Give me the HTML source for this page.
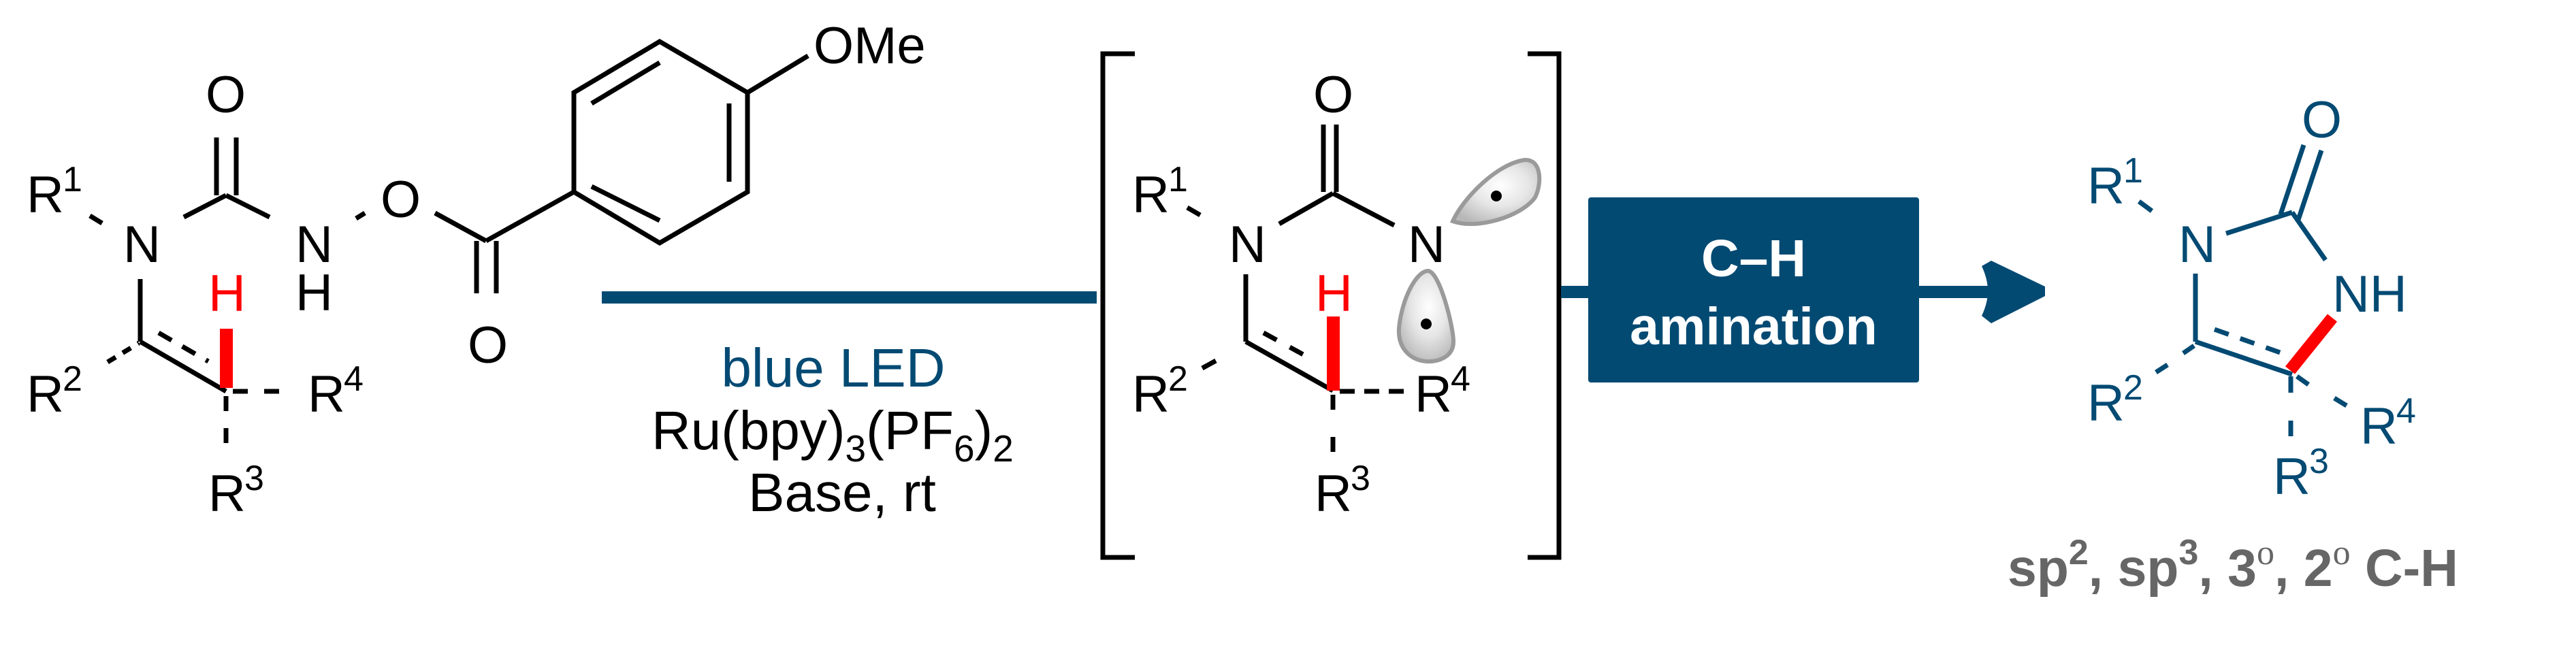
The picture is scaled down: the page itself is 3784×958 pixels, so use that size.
<!DOCTYPE html>
<html><head><meta charset="utf-8"><style>
html,body{margin:0;padding:0;background:#fff;}
svg{display:block;}
text{font-family:"Liberation Sans",Arial,sans-serif;}
</style></head><body>
<svg width="3784" height="958" viewBox="0 0 3784 958" xmlns="http://www.w3.org/2000/svg">
<defs>
<radialGradient id="lg" cx="0.55" cy="0.4" r="0.65">
<stop offset="0" stop-color="#ffffff"/><stop offset="0.5" stop-color="#e6e6e6"/><stop offset="1" stop-color="#b8b8b8"/>
</radialGradient>
</defs>
<g stroke="#000" stroke-width="7" fill="none">
<!-- reactant -->
<line x1="270" y1="319" x2="332" y2="287"/>
<line x1="332" y1="287" x2="396" y2="319"/>
<line x1="318" y1="202" x2="318" y2="287"/>
<line x1="347" y1="202" x2="347" y2="287"/>
<line x1="523" y1="321" x2="536" y2="313"/>
<line x1="639" y1="313" x2="714" y2="354"/>
<line x1="700" y1="354" x2="700" y2="431"/>
<line x1="729" y1="354" x2="729" y2="431"/>
<line x1="714" y1="354" x2="843" y2="282"/>
<polygon points="843,282 843,136 969,61 1098,136 1098,282 969,357"/>
<line x1="869" y1="274" x2="969" y2="324"/>
<line x1="869" y1="152" x2="969" y2="92"/>
<line x1="1071" y1="152" x2="1071" y2="267"/>
<line x1="1098" y1="136" x2="1187" y2="82"/>
<line x1="132" y1="317" x2="150" y2="328"/>
<line x1="206" y1="410" x2="206" y2="502"/>
<line x1="158" y1="532" x2="204" y2="504" stroke-dasharray="14,12"/>
<line x1="206" y1="502" x2="332" y2="575"/>
<line x1="233" y1="489" x2="306" y2="531" stroke-dasharray="22,18"/>
<line x1="342" y1="575" x2="423" y2="575" stroke-dasharray="22,24"/>
<line x1="332" y1="582" x2="332" y2="651" stroke-dasharray="22,25"/>
<!-- intermediate -->
<polyline points="1667,79 1620,79 1620,819 1667,819"/>
<polyline points="2244,79 2290,79 2290,819 2244,819"/>
<line x1="1944" y1="183" x2="1944" y2="282"/>
<line x1="1963" y1="183" x2="1963" y2="282"/>
<line x1="1879" y1="329" x2="1958" y2="284"/>
<line x1="1958" y1="284" x2="2048" y2="331"/>
<line x1="1744" y1="305" x2="1763" y2="316"/>
<line x1="1830" y1="403" x2="1830" y2="502"/>
<line x1="1766" y1="541" x2="1786" y2="530"/>
<line x1="1830" y1="502" x2="1958" y2="574"/>
<line x1="1856" y1="489" x2="1931" y2="530" stroke-dasharray="22,22"/>
<line x1="1968" y1="575" x2="2063" y2="575" stroke-dasharray="22,14"/>
<line x1="1958" y1="580" x2="1958" y2="666" stroke-dasharray="22,40"/>
</g>
<rect x="323" y="483" width="19" height="87" fill="#f00"/>
<rect x="1949" y="465" width="19" height="109" fill="#f00"/>
<g font-size="76" fill="#000">
<text x="39" y="312">R</text><text x="92" y="281" font-size="52">1</text>
<text x="181" y="385">N</text>
<text x="302" y="165">O</text>
<text x="434" y="385">N</text>
<text x="434" y="456">H</text>
<text x="559" y="319">O</text>
<text x="687" y="533">O</text>
<text x="1195" y="93">OMe</text>
<text x="39" y="605">R</text><text x="92" y="574" font-size="52">2</text>
<text x="452" y="605">R</text><text x="505" y="574" font-size="52">4</text>
<text x="306" y="751">R</text><text x="359" y="720" font-size="52">3</text>
<text x="306" y="457" fill="#f00">H</text>
<text x="1663" y="312">R</text><text x="1716" y="281" font-size="52">1</text>
<text x="1805" y="385">N</text>
<text x="2068" y="385">N</text>
<text x="1929" y="165">O</text>
<text x="1663" y="605">R</text><text x="1716" y="574" font-size="52">2</text>
<text x="2078" y="605">R</text><text x="2131" y="574" font-size="52">4</text>
<text x="1931" y="751">R</text><text x="1984" y="720" font-size="52">3</text>
<text x="1932" y="457" fill="#f00">H</text>
</g>
<!-- lobes -->
<path d="M2134,325 C2150,290 2200,240 2240,235 C2265,234 2265,270 2255,290 C2235,318 2170,338 2134,325 Z" fill="url(#lg)" stroke="#9a9a9a" stroke-width="6"/>
<circle cx="2198" cy="288" r="8" fill="#000"/>
<path d="M2098,398 C2115,400 2135,480 2135,502 C2135,525 2112,532 2095,531 C2072,529 2053,512 2055,482 C2059,440 2080,398 2098,398 Z" fill="url(#lg)" stroke="#9a9a9a" stroke-width="6"/>
<circle cx="2095" cy="476" r="8" fill="#000"/>
<!-- arrow/line -->
<rect x="884" y="428" width="727" height="18" fill="#034a73"/>
<rect x="2293" y="420" width="42" height="18" fill="#034a73"/>
<rect x="2333" y="290" width="486" height="272" rx="4" fill="#034a73"/>
<text x="2576" y="406" font-size="77" font-weight="bold" fill="#fff" text-anchor="middle">C–H</text>
<text x="2576" y="506" font-size="77" font-weight="bold" fill="#fff" text-anchor="middle">amination</text>
<rect x="2819" y="420" width="102" height="18" fill="#034a73"/>
<path d="M2911,391 L2925,383 L3004,421 L3004,435 L2925,475 L2911,464 Q2920,445 2920,428 Q2920,410 2911,391 Z" fill="#034a73"/>
<!-- conditions -->
<text x="1224" y="568" font-size="80" fill="#034a73" text-anchor="middle">blue LED</text>
<text x="957" y="660" font-size="80" fill="#000">Ru(bpy)<tspan font-size="55" dy="18">3</tspan><tspan dy="-18">(PF</tspan><tspan font-size="55" dy="18">6</tspan><tspan dy="-18">)</tspan><tspan font-size="55" dy="18">2</tspan></text>
<text x="1237" y="751" font-size="80" fill="#000" text-anchor="middle">Base, rt</text>
<!-- product -->
<g stroke="#034a73" stroke-width="7" fill="none">
<line x1="3142" y1="296" x2="3161" y2="310"/>
<line x1="3270" y1="343" x2="3367" y2="312"/>
<line x1="3350" y1="315" x2="3384" y2="213"/>
<line x1="3376" y1="323" x2="3410" y2="221"/>
<line x1="3367" y1="312" x2="3416" y2="382"/>
<line x1="3225" y1="402" x2="3225" y2="502"/>
<line x1="3167" y1="547" x2="3184" y2="536"/>
<line x1="3207" y1="519" x2="3223" y2="508"/>
<line x1="3225" y1="502" x2="3367" y2="550"/>
<line x1="3253" y1="484" x2="3355" y2="520" stroke-dasharray="22,18"/>
<line x1="3374" y1="553" x2="3391" y2="565"/>
<line x1="3429" y1="585" x2="3447" y2="596"/>
<line x1="3365" y1="553" x2="3365" y2="577"/>
<line x1="3365" y1="618" x2="3365" y2="641"/>
</g>
<line x1="3364" y1="544" x2="3426" y2="467" stroke="#f00" stroke-width="18"/>
<g font-size="76" fill="#034a73">
<text x="3066" y="299">R</text><text x="3119" y="268" font-size="52">1</text>
<text x="3200" y="385">N</text>
<text x="3381" y="202">O</text>
<text x="3426" y="458">NH</text>
<text x="3066" y="618">R</text><text x="3119" y="587" font-size="52">2</text>
<text x="3467" y="652">R</text><text x="3520" y="621" font-size="52">4</text>
<text x="3339" y="726">R</text><text x="3392" y="695" font-size="52">3</text>
</g>
<text x="2949" y="861" font-size="77" font-weight="bold" fill="#666">sp<tspan font-size="52" dy="-32">2</tspan><tspan dy="32">, sp</tspan><tspan font-size="52" dy="-32">3</tspan><tspan dy="32">, 3</tspan><tspan font-size="52" dy="-32" font-family="Liberation Serif" font-weight="normal">o</tspan><tspan dy="32">, 2</tspan><tspan font-size="52" dy="-32" font-family="Liberation Serif" font-weight="normal">o</tspan><tspan dy="32"> C-H</tspan></text>
</svg>
</body></html>
